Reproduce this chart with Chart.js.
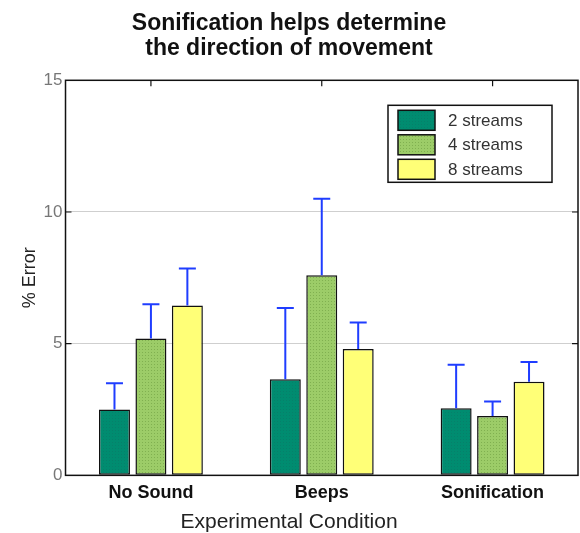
<!DOCTYPE html>
<html>
<head>
<meta charset="utf-8">
<script src="https://cdn.jsdelivr.net/npm/chart.js@4.4.1/dist/chart.umd.min.js"></script>
<style>
  html, body { margin: 0; padding: 0; background: #fff; }
  #wrap { width: 580px; height: 533px; }
</style>
</head>
<body>
<div id="wrap"><canvas id="chart"></canvas></div>
<script>
const categories = ["No Sound", "Beeps", "Sonification"];
const seriesLabels = ["2 streams", "4 streams", "8 streams"];
const streams2 = [2.5, 3.65, 2.55];
const streams4 = [5.2, 7.6, 2.25];
const streams8 = [6.45, 4.8, 3.55];
// upper error bar lengths
const err2 = [1.0, 2.7, 1.65];
const err4 = [1.3, 2.9, 0.55];
const err8 = [1.4, 1.0, 0.75];
const yTicks = [0, 5, 10, 15];

const FONT = "'Liberation Sans', Arial, Helvetica, sans-serif";

function dotted(base, dot) {
  const c = document.createElement("canvas");
  c.width = 3; c.height = 3;
  const g = c.getContext("2d");
  g.fillStyle = base;
  g.fillRect(0, 0, 3, 3);
  g.fillStyle = dot;
  g.fillRect(1, 1, 1, 1);
  return g.createPattern(c, "repeat");
}

const errorBars = {
  id: "errorBars",
  afterDatasetsDraw(chart) {
    const ctx = chart.ctx;
    const y = chart.scales.y;
    ctx.save();
    ctx.strokeStyle = "#1f3dff";
    ctx.lineWidth = 2;
    chart.data.datasets.forEach((ds, di) => {
      const meta = chart.getDatasetMeta(di);
      meta.data.forEach((bar, i) => {
        const top = y.getPixelForValue(ds.data[i] + ds.errors[i]);
        ctx.beginPath();
        ctx.moveTo(bar.x, bar.y);
        ctx.lineTo(bar.x, top);
        ctx.moveTo(bar.x - 8.5, top);
        ctx.lineTo(bar.x + 8.5, top);
        ctx.stroke();
      });
    });
    ctx.restore();
  }
};

const frame = {
  id: "frame",
  afterDraw(chart) {
    const { ctx, chartArea: a, scales } = chart;
    ctx.save();
    ctx.strokeStyle = "#111";
    ctx.lineWidth = 1.5;
    ctx.strokeRect(a.left, a.top, a.right - a.left, a.bottom - a.top);
    ctx.lineWidth = 1.2;
    ctx.beginPath();
    yTicks.forEach(v => {
      if (v === 0 || v === 15) return;
      const py = scales.y.getPixelForValue(v);
      ctx.moveTo(a.left, py); ctx.lineTo(a.left + 6, py);
      ctx.moveTo(a.right - 6, py); ctx.lineTo(a.right, py);
    });
    categories.forEach((c, i) => {
      const px = scales.x.getPixelForValue(i);
      ctx.moveTo(px, a.top); ctx.lineTo(px, a.top + 6);
    });
    ctx.stroke();

    // legend box
    const lx = a.right - 190, ly = a.top + 25, lw = 164, lh = 77;
    ctx.fillStyle = "#fff";
    ctx.fillRect(lx, ly, lw, lh);
    ctx.lineWidth = 1.5;
    ctx.strokeStyle = "#111";
    ctx.strokeRect(lx, ly, lw, lh);
    ctx.font = "17px " + FONT;
    ctx.textBaseline = "middle";
    chart.data.datasets.forEach((ds, i) => {
      const ry = ly + 5 + i * 24.5;
      ctx.fillStyle = ds.backgroundColor;
      ctx.fillRect(lx + 10, ry, 37, 20);
      ctx.strokeRect(lx + 10, ry, 37, 20);
      ctx.fillStyle = "#333";
      ctx.fillText(ds.label, lx + 60, ry + 11);
    });
    ctx.restore();
  }
};

new Chart(document.getElementById("chart"), {
  type: "bar",
  data: {
    labels: categories,
    datasets: [
      { label: seriesLabels[0], data: streams2, errors: err2, backgroundColor: dotted("#008c70", "#06806a") },
      { label: seriesLabels[1], data: streams4, errors: err4, backgroundColor: dotted("#9ccc68", "#80b050") },
      { label: seriesLabels[2], data: streams8, errors: err8, backgroundColor: "#ffff77" }
    ].map(d => Object.assign(d, { borderColor: "#111", borderWidth: 1.5, borderSkipped: false }))
  },
  options: {
    responsive: true,
    maintainAspectRatio: false,
    animation: false,
    layout: { padding: { left: 0, right: 2, top: 0, bottom: 0 } },
    categoryPercentage: 0.64,
    barPercentage: 0.85,
    plugins: {
      legend: { display: false },
      tooltip: { enabled: false },
      title: {
        display: true,
        text: ["Sonification helps determine", "the direction of movement"],
        color: "#111",
        font: { family: FONT, size: 23, weight: "bold", lineHeight: 1.05 },
        padding: { top: 12, bottom: 20 }
      },
      subtitle: {
        display: true,
        position: "bottom",
        text: "Experimental Condition",
        color: "#222",
        font: { family: FONT, size: 21, lineHeight: 1.05 },
        padding: { top: 0, bottom: 0 }
      }
    },
    scales: {
      x: {
        grid: { display: false, drawTicks: false },
        border: { display: false },
        ticks: { color: "#111", font: { family: FONT, size: 18, weight: "bold" }, padding: 7 }
      },
      y: {
        min: 0,
        max: 15,
        afterBuildTicks: s => { s.ticks = yTicks.map(v => ({ value: v })); },
        grid: { color: "#cfcfcf", drawTicks: false, lineWidth: 1 },
        border: { display: false },
        ticks: { color: "#777", font: { family: FONT, size: 17 }, padding: 3 },
        title: { display: true, text: "% Error", color: "#222", font: { family: FONT, size: 18 }, padding: { top: 19, bottom: 0 } }
      }
    }
  },
  plugins: [errorBars, frame]
});
</script>
</body>
</html>
